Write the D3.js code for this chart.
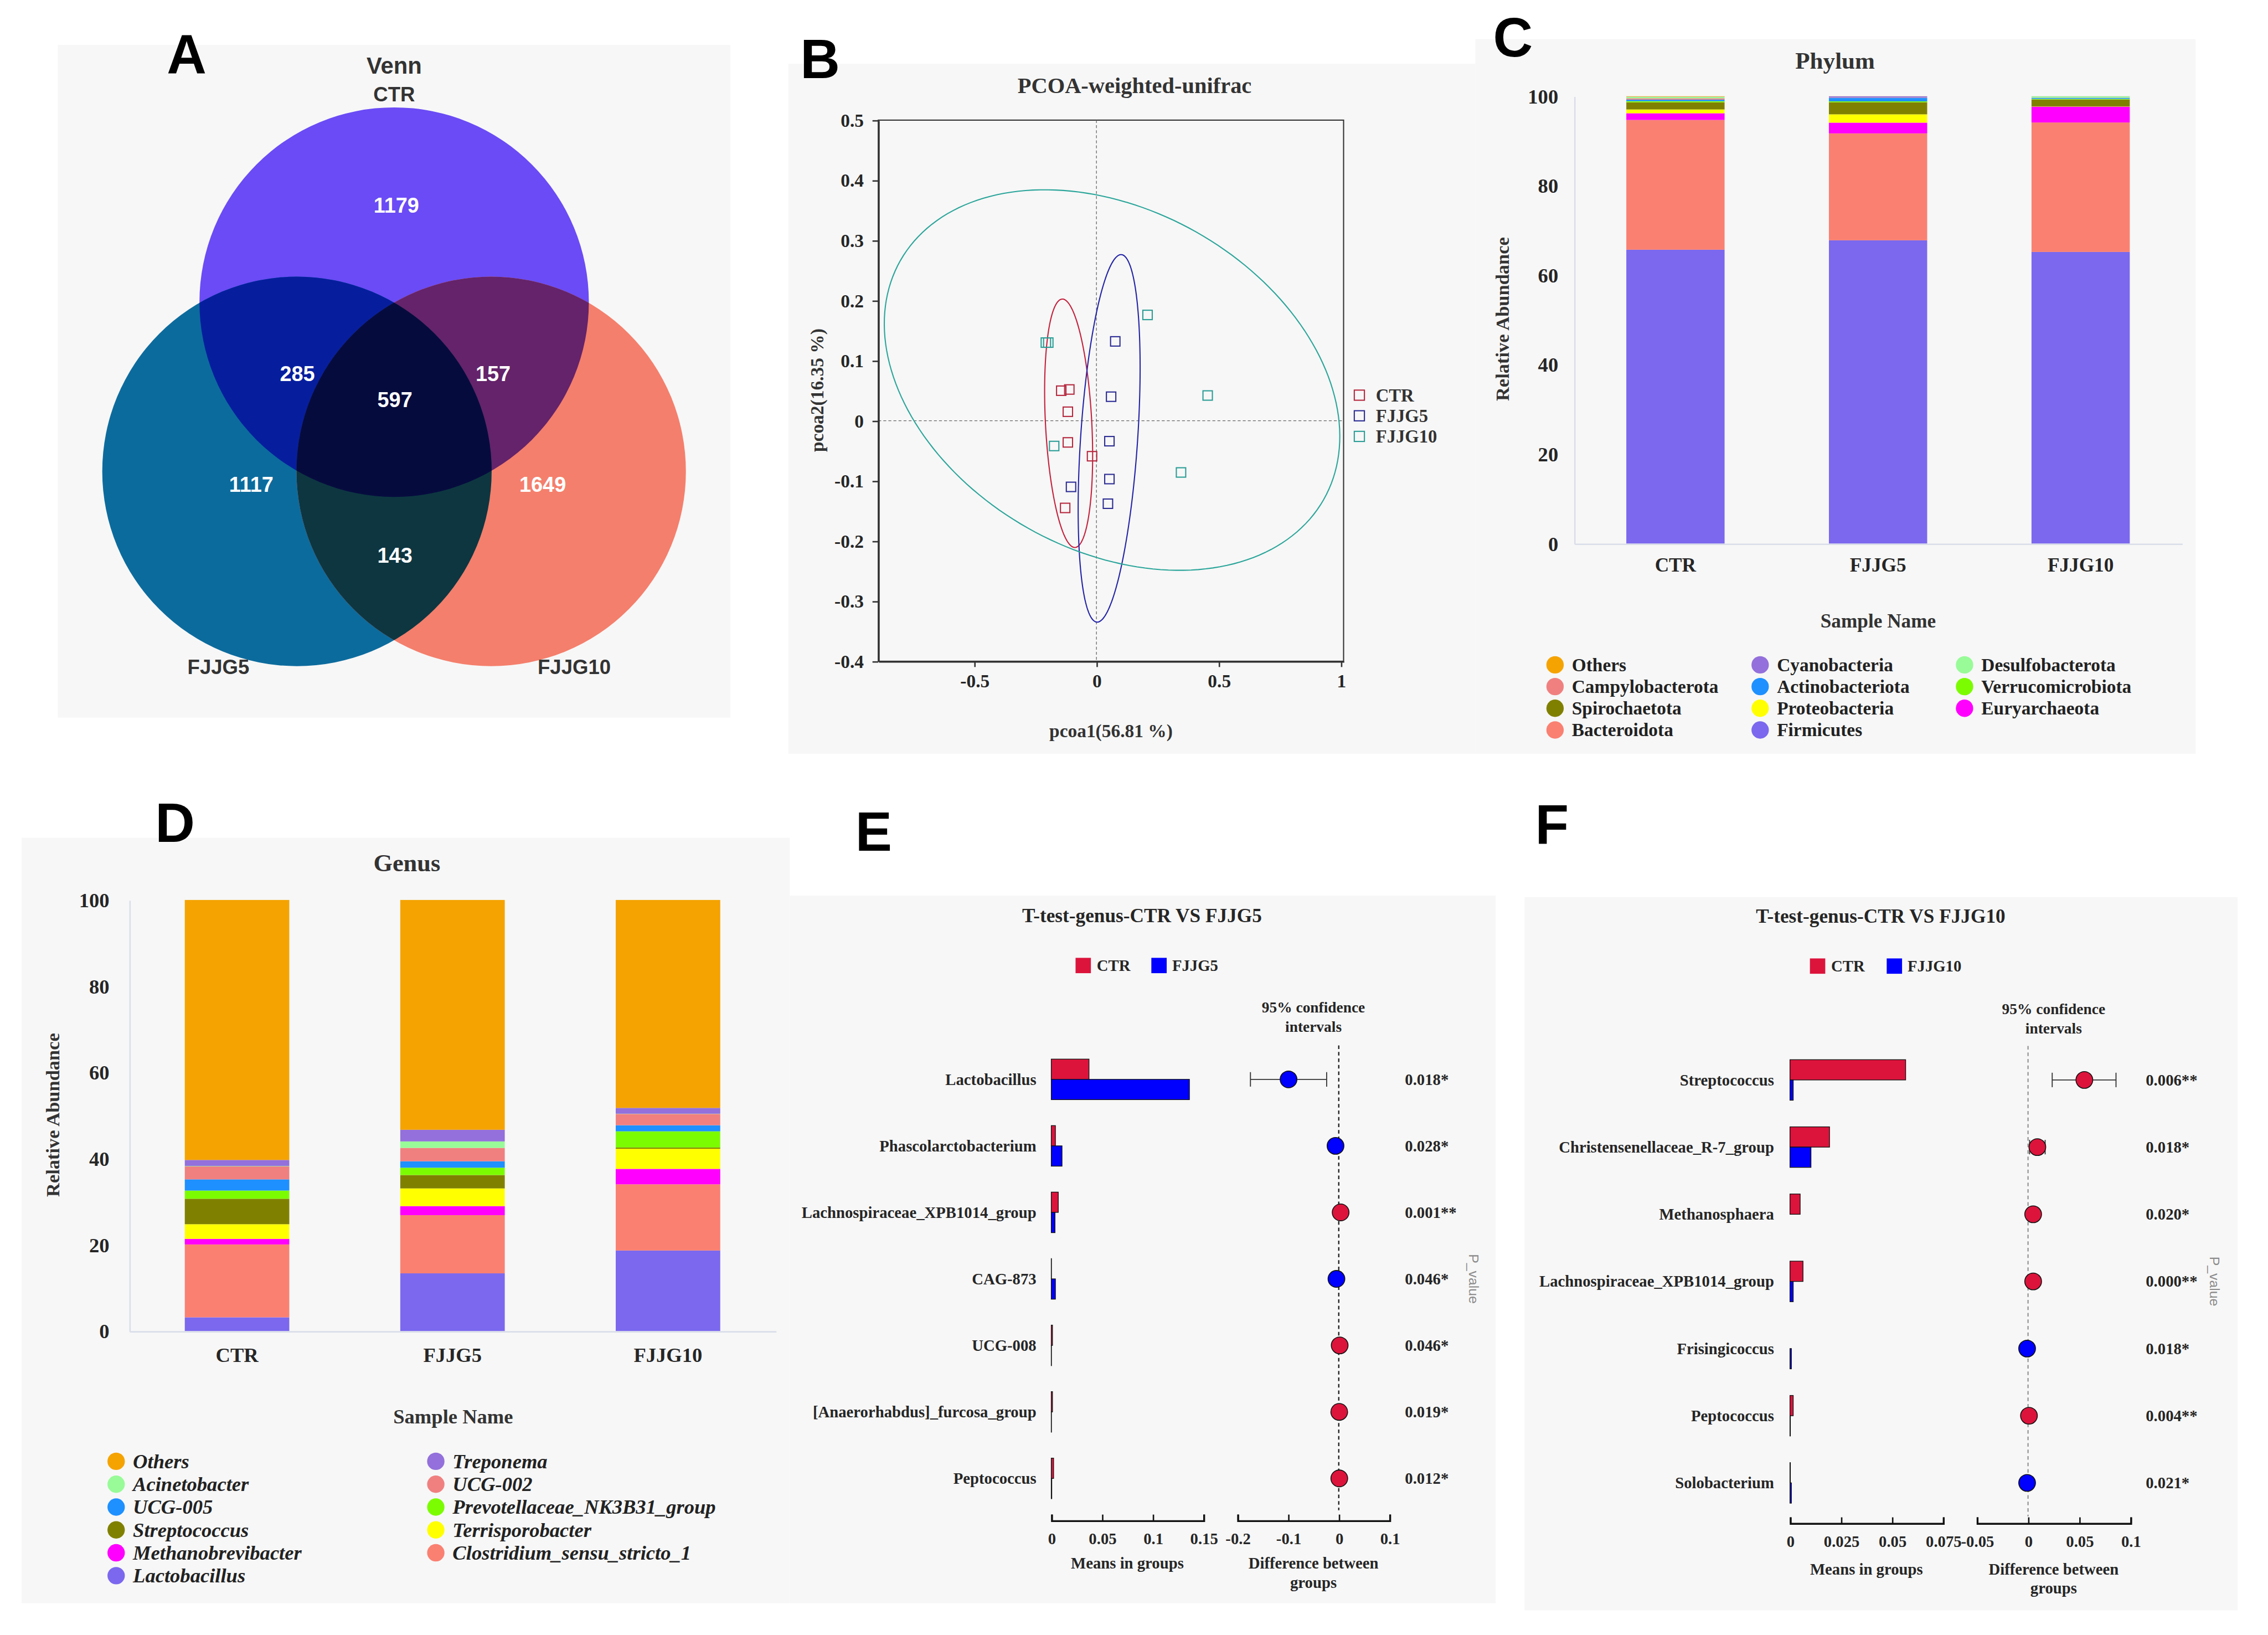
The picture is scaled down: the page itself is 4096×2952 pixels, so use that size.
<!DOCTYPE html>
<html>
<head>
<meta charset="utf-8">
<script src="https://cdn.jsdelivr.net/npm/d3@7"></script>
<style>
  html, body { margin: 0; padding: 0; background: #fff; }
  svg { display: block; }
</style>
</head>
<body>
<svg id="fig"></svg>
<script>
// ---------------- data ----------------
// A: Venn
const vennSets = ["CTR", "FJJG5", "FJJG10"];
const vennOnly = [1179, 1117, 1649];          // CTR, FJJG5, FJJG10 unique
const vennPairs = [285, 157, 143];            // CTR&FJJG5, CTR&FJJG10, FJJG5&FJJG10
const vennAll = 597;

// B: PCoA
const pcoaGroups = ["CTR", "FJJG5", "FJJG10"];
const pcoaCTR = [[-0.144, 0.050], [-0.111, 0.052], [-0.117, 0.015], [-0.117, -0.036], [-0.018, -0.059], [-0.128, -0.145]];
const pcoaFJJG5 = [[0.077, 0.132], [0.060, 0.040], [0.053, -0.034], [0.053, -0.097], [0.047, -0.138], [-0.104, -0.110]];
const pcoaFJJG10 = [[-0.207, 0.130], [-0.197, 0.130], [-0.173, -0.042], [0.209, 0.176], [0.455, 0.042], [0.346, -0.086]];
// ellipse: centre, semi-axis a, semi-axis b (data units)
const pcoaEllipseCTR = [[-0.1138, -0.0042], [-0.0264, 0.2066], [0.0946, 0.0021]];
const pcoaEllipseFJJG5 = [[0.0519, -0.0293], [0.0501, 0.3056], [0.1164, -0.0033]];
const pcoaEllipseFJJG10 = [[0.0638, 0.0677], [0.8772, -0.1901], [-0.3140, -0.2530]];
const pcoaXTicks = [-0.5, 0, 0.5, 1];
const pcoaYTicks = [0.5, 0.4, 0.3, 0.2, 0.1, 0, -0.1, -0.2, -0.3, -0.4];

// C: phylum (bottom -> top)
const sampleNames = ["CTR", "FJJG5", "FJJG10"];
const phylumNames = ["Firmicutes", "Bacteroidota", "Euryarchaeota", "Proteobacteria", "Spirochaetota",
  "Verrucomicrobiota", "Actinobacteriota", "Campylobacterota", "Desulfobacterota", "Cyanobacteria", "Others"];
const phylumCTR = [65.7, 29.0, 1.5, 0.85, 1.6, 0.25, 0.35, 0.3, 0.3, 0.05, 0.1];
const phylumFJJG5 = [67.8, 23.9, 2.4, 1.86, 2.7, 0.2, 0.75, 0.05, 0.02, 0.3, 0.02];
const phylumFJJG10 = [65.2, 28.94, 3.53, 0.05, 1.55, 0.15, 0.2, 0.05, 0.3, 0.02, 0.01];

// D: genus (bottom -> top)
const genusNames = ["Lactobacillus", "Clostridium_sensu_stricto_1", "Methanobrevibacter", "Terrisporobacter",
  "Streptococcus", "Prevotellaceae_NK3B31_group", "UCG-005", "UCG-002", "Acinetobacter", "Treponema", "Others"];
const genusCTR = [3.2, 16.9, 1.3, 3.4, 5.9, 1.9, 2.6, 3.0, 0.1, 1.4, 60.3];
const genusFJJG5 = [13.4, 13.5, 2.1, 4.1, 3.1, 1.7, 1.5, 3.1, 1.5, 2.7, 53.3];
const genusFJJG10 = [18.7, 15.35, 3.58, 4.68, 0.28, 3.75, 1.41, 2.62, 0.05, 1.35, 48.23];
const stackColors = ["#7B68EE", "#FA8072", "#FF00FF", "#FFFF00", "#808000", "#7CFC00",
  "#1E90FF", "#F08080", "#98FB98", "#9370DB", "#F5A300"];
const abundanceTicks = [0, 20, 40, 60, 80, 100];

// E: t-test CTR vs FJJG5
const ttestEGenera = ["Lactobacillus", "Phascolarctobacterium", "Lachnospiraceae_XPB1014_group", "CAG-873",
  "UCG-008", "[Anaerorhabdus]_furcosa_group", "Peptococcus"];
const ttestEMeanCTR = [0.0372, 0.0041, 0.0069, 0.0002, 0.0012, 0.0012, 0.0023];
const ttestEMeanTrt = [0.1362, 0.0106, 0.0037, 0.0041, 0.0002, 0.0002, 0.0005];
const ttestEDiff = [-0.0991, -0.0064, 0.0037, -0.0046, 0.0018, 0.0009, 0.0010];
const ttestELow = [-0.1743, -0.0108, 0.0015, -0.0083, 0.0003, 0.0002, 0.0002];
const ttestEHigh = [-0.0239, -0.0020, 0.0059, -0.0009, 0.0033, 0.0016, 0.0018];
const ttestEP = ["0.018*", "0.028*", "0.001**", "0.046*", "0.046*", "0.019*", "0.012*"];
const ttestEMeanTicks = [0, 0.05, 0.1, 0.15];
const ttestEDiffTicks = [-0.2, -0.1, 0, 0.1];

// F: t-test CTR vs FJJG10
const ttestFGenera = ["Streptococcus", "Christensenellaceae_R-7_group", "Methanosphaera", "Lachnospiraceae_XPB1014_group",
  "Frisingicoccus", "Peptococcus", "Solobacterium"];
const ttestFMeanCTR = [0.0567, 0.0194, 0.0050, 0.0064, 0.0000, 0.0016, 0.0002];
const ttestFMeanTrt = [0.0016, 0.0103, 0.0000, 0.0016, 0.0007, 0.0002, 0.0007];
const ttestFDiff = [0.0550, 0.0091, 0.0050, 0.0050, -0.0009, 0.0009, -0.0009];
const ttestFLow = [0.0236, 0.0015, 0.0012, 0.0028, -0.0015, 0.0003, -0.0016];
const ttestFHigh = [0.0859, 0.0167, 0.0088, 0.0072, -0.0003, 0.0015, -0.0002];
const ttestFP = ["0.006**", "0.018*", "0.020*", "0.000**", "0.018*", "0.004**", "0.021*"];
const ttestFMeanTicks = [0, 0.025, 0.05, 0.075];
const ttestFDiffTicks = [-0.05, 0, 0.05, 0.1];

// ---------------- setup ----------------
const SERIF = "'Liberation Serif','Times New Roman',Times,serif";
const SANS = "'Liberation Sans',Arial,Helvetica,sans-serif";
const svg = d3.select("#fig")
  .attr("width", 4096).attr("height", 2952)
  .attr("viewBox", "0 0 1568 1130");

svg.append("rect").attr("width", 1568).attr("height", 1130).attr("fill", "#fff");

// text helper: y is the visual centre of the caps
function label(g, x, y, s, o = {}) {
  const size = o.size || 12;
  const t = g.append("text")
    .attr("x", x).attr("y", y + size * 0.34)
    .attr("font-family", o.family || SERIF)
    .attr("font-size", size)
    .attr("font-weight", o.weight || "bold")
    .attr("fill", o.fill || "#262626")
    .attr("text-anchor", o.anchor || "middle")
    .text(s);
  if (o.italic) t.attr("font-style", "italic");
  if (o.rotate) t.attr("transform", `rotate(${o.rotate},${x},${y})`);
  return t;
}

function styleAxis(g, size, color) {
  g.attr("font-family", SERIF).attr("font-size", size).attr("font-weight", "bold")
    .attr("color", color);
  g.selectAll("text").attr("fill", "#262626");
}

// panel backgrounds
const panels = [[40, 31, 465, 465], [545, 44, 475, 477], [1020, 27, 498, 494],
  [15, 579, 531, 529], [546, 619, 488, 489], [1054, 620, 493, 493]];
svg.selectAll("rect.bg").data(panels).join("rect").attr("class", "bg")
  .attr("x", d => d[0]).attr("y", d => d[1]).attr("width", d => d[2]).attr("height", d => d[3])
  .attr("fill", "#f7f7f7");

// panel letters
[["A", 129, 38], ["B", 567, 41], ["C", 1046, 26], ["D", 121, 569], ["E", 604, 575], ["F", 1073, 570]]
  .forEach(([s, x, y]) => label(svg, x, y, s, { family: SANS, size: 38, fill: "#000" }));

// ---------------- A: Venn ----------------
(function () {
  const g = svg.append("g");
  const r = 134.6;
  const centres = [[272.5, 208.8], [205.3, 325.8], [339.6, 325.8]];
  const base = ["#6A4BF5", "#0C6B9D", "#F47F6C"];
  const pairCol = ["#061E9E", "#64236A", "#0D3641"];
  const defs = g.append("defs");
  centres.forEach((c, i) => {
    defs.append("clipPath").attr("id", "vc" + i)
      .append("circle").attr("cx", c[0]).attr("cy", c[1]).attr("r", r);
  });
  g.selectAll("circle.base").data(centres).join("circle").attr("class", "base")
    .attr("cx", d => d[0]).attr("cy", d => d[1]).attr("r", r)
    .attr("fill", (d, i) => base[i]);
  const pairs = [[0, 1], [0, 2], [1, 2]];
  pairs.forEach(([a, b], k) => {
    g.append("g").attr("clip-path", `url(#vc${a})`)
      .append("circle").attr("cx", centres[b][0]).attr("cy", centres[b][1]).attr("r", r)
      .attr("fill", pairCol[k]);
  });
  g.append("g").attr("clip-path", "url(#vc0)")
    .append("g").attr("clip-path", "url(#vc1)")
    .append("circle").attr("cx", centres[2][0]).attr("cy", centres[2][1]).attr("r", r)
    .attr("fill", "#060B3E");

  label(g, 272.5, 45.3, "Venn", { family: SANS, size: 16, fill: "#333" });
  label(g, 272.5, 65.3, vennSets[0], { family: SANS, size: 14, fill: "#333" });
  label(g, 151, 461, vennSets[1], { family: SANS, size: 14, fill: "#333" });
  label(g, 397, 461, vennSets[2], { family: SANS, size: 14, fill: "#333" });

  const onlyPos = [[274, 142], [173.7, 334.9], [375.2, 334.9]];
  const pairPos = [[205.6, 258.3], [340.9, 258.3], [273, 384]];
  vennOnly.forEach((v, i) => label(g, onlyPos[i][0], onlyPos[i][1], v, { family: SANS, size: 14.5, fill: "#fff" }));
  vennPairs.forEach((v, i) => label(g, pairPos[i][0], pairPos[i][1], v, { family: SANS, size: 14.5, fill: "#fff" }));
  label(g, 273, 276.3, vennAll, { family: SANS, size: 14.5, fill: "#fff" });
})();

// ---------------- B: PCoA ----------------
(function () {
  const g = svg.append("g");
  const x = d3.scaleLinear().domain([-0.8925, 1.011]).range([607.2, 928.9]);
  const y = d3.scaleLinear().domain([-0.4, 0.5]).range([457, 83]);
  const cols = ["#B5283E", "#2C2C94", "#2A9D96"];
  const ellCols = ["#C4203C", "#2323A8", "#2AA59A"];

  g.append("rect").attr("x", x.range()[0]).attr("y", y.range()[1])
    .attr("width", x.range()[1] - x.range()[0]).attr("height", y.range()[0] - y.range()[1])
    .attr("fill", "none").attr("stroke", "#333").attr("stroke-width", 0.8);

  g.append("line").attr("x1", x(0)).attr("x2", x(0)).attr("y1", y(0.5)).attr("y2", y(-0.4))
    .attr("stroke", "#666").attr("stroke-width", 0.5).attr("stroke-dasharray", "2,1.5");
  g.append("line").attr("x1", x.range()[0]).attr("x2", x.range()[1]).attr("y1", y(0)).attr("y2", y(0))
    .attr("stroke", "#666").attr("stroke-width", 0.5).attr("stroke-dasharray", "2,1.5");

  const ax = g.append("g").attr("transform", `translate(0,${y(-0.4)})`)
    .call(d3.axisBottom(x).tickValues(pcoaXTicks).tickSize(4).tickSizeOuter(0).tickPadding(5).tickFormat(d => String(d)));
  styleAxis(ax, 12.8, "#333");
  const ay = g.append("g").attr("transform", `translate(${x.range()[0]},0)`)
    .call(d3.axisLeft(y).tickValues(pcoaYTicks).tickSize(4).tickSizeOuter(0).tickPadding(6).tickFormat(d => String(d)));
  styleAxis(ay, 12.8, "#333");

  const ellipses = [pcoaEllipseCTR, pcoaEllipseFJJG5, pcoaEllipseFJJG10];
  const line = d3.line().x(d => x(d[0])).y(d => y(d[1])).curve(d3.curveLinearClosed);
  ellipses.forEach((e, i) => {
    const pts = d3.range(0, 360, 2).map(t => {
      const a = t * Math.PI / 180;
      return [e[0][0] + e[1][0] * Math.cos(a) + e[2][0] * Math.sin(a),
              e[0][1] + e[1][1] * Math.cos(a) + e[2][1] * Math.sin(a)];
    });
    g.append("path").attr("d", line(pts)).attr("fill", "none")
      .attr("stroke", ellCols[i]).attr("stroke-width", 0.8);
  });

  const sets = [pcoaCTR, pcoaFJJG5, pcoaFJJG10];
  const s = 6.5;
  sets.forEach((pts, i) => {
    g.selectAll(null).data(pts).join("rect")
      .attr("x", d => x(d[0]) - s / 2).attr("y", d => y(d[1]) - s / 2)
      .attr("width", s).attr("height", s).attr("fill", "none")
      .attr("stroke", cols[i]).attr("stroke-width", 0.8);
  });

  const ly = d3.scalePoint().domain(pcoaGroups).range([273.1, 301.6]);
  pcoaGroups.forEach((n, i) => {
    g.append("rect").attr("x", 939.8 - 3.5).attr("y", ly(n) - 3.5).attr("width", 7).attr("height", 7)
      .attr("fill", "none").attr("stroke", cols[i]).attr("stroke-width", 0.8);
    label(g, 951.2, ly(n), n, { size: 12.5, anchor: "start", fill: "#333" });
  });

  label(g, 784.4, 58.9, "PCOA-weighted-unifrac", { size: 15.5, fill: "#333" });
  label(g, 768.1, 505.3, "pcoa1(56.81 %)", { size: 12.8, fill: "#333" });
  label(g, 564.9, 269.7, "pcoa2(16.35 %)", { size: 12.8, fill: "#333", rotate: -90 });
})();

// ---------------- stacked bar helper (C, D) ----------------
function stackedPanel(o) {
  const g = svg.append("g");
  const x = d3.scaleBand().domain(sampleNames).range(o.xRange).paddingInner(0.515).paddingOuter(0.2575);
  const y = d3.scaleLinear().domain([0, 100]).range(o.yRange);
  const table = sampleNames.map((s, i) => {
    const row = { sample: s };
    o.names.forEach((n, j) => { row[n] = o.values[i][j]; });
    return row;
  });
  const series = d3.stack().keys(o.names)(table);
  g.selectAll("g.layer").data(series).join("g").attr("class", "layer")
    .attr("fill", (d, i) => stackColors[i])
    .selectAll("rect").data(d => d).join("rect")
    .attr("x", d => x(d.data.sample)).attr("width", x.bandwidth())
    .attr("y", d => y(d[1])).attr("height", d => Math.max(0, y(d[0]) - y(d[1])));

  const ay = g.append("g").attr("transform", `translate(${o.xRange[0]},0)`)
    .call(d3.axisLeft(y).tickValues(abundanceTicks).tickSize(0).tickPadding(o.yPad));
  styleAxis(ay, 14, "#d9dee9");
  const ax = g.append("g").attr("transform", `translate(0,${o.yRange[0]})`)
    .call(d3.axisBottom(x).tickSize(0).tickPadding(o.xPad));
  styleAxis(ax, o.catSize, "#d9dee9");
  g.selectAll(".domain").attr("stroke-width", 1);

  label(g, o.title[0], o.title[1], o.title[2], { size: o.titleSize, fill: "#333" });
  label(g, o.yLab[0], o.yLab[1], "Relative Abundance", { size: 13.2, fill: "#333", rotate: -90 });
  label(g, o.sName[0], o.sName[1], "Sample Name", { size: o.catSize, fill: "#333" });

  const legend = o.names.slice().reverse();
  legend.forEach((n, k) => {
    const c = k % o.legCols.length, r = Math.floor(k / o.legCols.length);
    const cy = o.legY0 + r * o.legDy;
    g.append("circle").attr("cx", o.legCols[c]).attr("cy", cy).attr("r", 6)
      .attr("fill", stackColors[o.names.length - 1 - k]);
    label(g, o.legCols[c] + 11.6, cy, n, { size: o.legSize, anchor: "start", fill: "#222", italic: o.italic });
  });
}

stackedPanel({
  names: phylumNames, values: [phylumCTR, phylumFJJG5, phylumFJJG10],
  xRange: [1088.3, 1508.5], yRange: [375.7, 66.5], yPad: 11, xPad: 9.7, catSize: 13.5,
  title: [1268.7, 41.9, "Phylum"], titleSize: 16.5, yLab: [1038.7, 220.5], sName: [1298.5, 429],
  legCols: [1075.1, 1216.9, 1358.2], legY0: 459.5, legDy: 15, legSize: 12.8, italic: false
});

stackedPanel({
  names: genusNames, values: [genusCTR, genusFJJG5, genusFJJG10],
  xRange: [89.4, 536.3], yRange: [920, 622], yPad: 13.8, xPad: 11.5, catSize: 14,
  title: [281.3, 596.3, "Genus"], titleSize: 17, yLab: [36.6, 770.6], sName: [313.3, 979],
  legCols: [80.3, 301.3], legY0: 1010, legDy: 15.8, legSize: 14, italic: true
});

// ---------------- t-test helper (E, F) ----------------
function ttestPanel(o) {
  const g = svg.append("g");
  const mx = d3.scaleLinear().domain(o.meanDomain).range(o.meanRange);
  const dx = d3.scaleLinear().domain(o.diffDomain).range(o.diffRange);
  const ry = d3.scalePoint().domain(o.genera).range(o.rowRange);
  const RED = "#DC143C", BLUE = "#0000FF";
  const bh = 14;

  label(g, o.titleX, o.titleY, o.title, { size: 13.5 });
  g.append("rect").attr("x", o.legX).attr("y", o.legY).attr("width", 10.6).attr("height", 10.6).attr("fill", RED);
  label(g, o.legX + 14.7, o.legY + 5.3, "CTR", { size: 11, anchor: "start" });
  g.append("rect").attr("x", o.leg2X).attr("y", o.legY).attr("width", 10.6).attr("height", 10.6).attr("fill", BLUE);
  label(g, o.leg2X + 14.4, o.legY + 5.3, o.trt, { size: 11, anchor: "start" });

  const midD = (o.diffRange[0] + o.diffRange[1]) / 2;
  label(g, midD, o.confY, "95% confidence", { size: 10.5 });
  label(g, midD, o.confY + 13.3, "intervals", { size: 10.5 });

  // zero line
  g.append("line").attr("x1", dx(0)).attr("x2", dx(0)).attr("y1", o.zeroTop).attr("y2", o.zeroBot)
    .attr("stroke", o.zeroColor).attr("stroke-width", 0.9).attr("stroke-dasharray", "2.5,2");

  // genus labels
  o.genera.forEach(n => label(g, o.labelX, ry(n), n, { size: 11, anchor: "end" }));

  // mean bars
  g.selectAll("rect.ctr").data(o.meanCTR).join("rect").attr("class", "ctr")
    .attr("x", mx(0)).attr("y", (d, i) => ry(o.genera[i]) - bh)
    .attr("width", d => mx(d) - mx(0)).attr("height", bh)
    .attr("fill", RED).attr("stroke", "#111").attr("stroke-width", 0.5);
  g.selectAll("rect.trt").data(o.meanTrt).join("rect").attr("class", "trt")
    .attr("x", mx(0)).attr("y", (d, i) => ry(o.genera[i]))
    .attr("width", d => mx(d) - mx(0)).attr("height", bh)
    .attr("fill", BLUE).attr("stroke", "#111").attr("stroke-width", 0.5);

  // confidence intervals + points
  o.diff.forEach((d, i) => {
    const yy = ry(o.genera[i]);
    const lo = dx(o.low[i]), hi = dx(o.high[i]);
    g.append("line").attr("x1", lo).attr("x2", hi).attr("y1", yy).attr("y2", yy)
      .attr("stroke", "#333").attr("stroke-width", 0.7);
    [lo, hi].forEach(xx => g.append("line").attr("x1", xx).attr("x2", xx)
      .attr("y1", yy - 5).attr("y2", yy + 5).attr("stroke", "#333").attr("stroke-width", 0.7));
    g.append("circle").attr("cx", dx(d)).attr("cy", yy).attr("r", 5.8)
      .attr("fill", d > 0 ? RED : BLUE).attr("stroke", "#111").attr("stroke-width", 0.6);
  });

  // p-values
  o.p.forEach((p, i) => label(g, o.pX, ry(o.genera[i]), p, { size: 11, anchor: "start" }));
  label(g, o.pLabX, (o.rowRange[0] + o.rowRange[1]) / 2, "P_value",
    { family: SANS, size: 9.5, weight: "normal", fill: "#8a8a8a", rotate: 90 });

  // axes
  const am = g.append("g").attr("transform", `translate(0,${o.axisY})`)
    .call(d3.axisBottom(mx).tickValues(o.meanTicks).tickSize(-4).tickPadding(8.7).tickFormat(d => String(d)));
  styleAxis(am, 11, "#111");
  const ad = g.append("g").attr("transform", `translate(0,${o.axisY})`)
    .call(d3.axisBottom(dx).tickValues(o.diffTicks).tickSize(-4).tickPadding(8.7).tickFormat(d => String(d)));
  styleAxis(ad, 11, "#111");
  g.selectAll(".domain").attr("stroke-width", 1.3);

  const midM = (o.meanRange[0] + o.meanRange[1]) / 2;
  label(g, midM, o.axisLabY, "Means in groups", { size: 11 });
  label(g, midD, o.axisLabY, "Difference between", { size: 11 });
  label(g, midD, o.axisLabY + 13.2, "groups", { size: 11 });
}

ttestPanel({
  title: "T-test-genus-CTR VS FJJG5", trt: "FJJG5", genera: ttestEGenera,
  meanCTR: ttestEMeanCTR, meanTrt: ttestEMeanTrt, diff: ttestEDiff, low: ttestELow, high: ttestEHigh, p: ttestEP,
  meanDomain: [0, 0.15], meanRange: [726.8, 832.0], meanTicks: ttestEMeanTicks,
  diffDomain: [-0.2, 0.1], diffRange: [855.5, 960.6], diffTicks: ttestEDiffTicks,
  rowRange: [746, 1021.8], labelX: 716.5, pX: 971.3, pLabX: 1018.8, axisY: 1050.8, axisLabY: 1080.5,
  titleX: 789.5, titleY: 632.8, legX: 743.6, leg2X: 796, legY: 662, confY: 696.3,
  zeroTop: 722.5, zeroBot: 1043.8, zeroColor: "#222"
});

ttestPanel({
  title: "T-test-genus-CTR VS FJJG10", trt: "FJJG10", genera: ttestFGenera,
  meanCTR: ttestFMeanCTR, meanTrt: ttestFMeanTrt, diff: ttestFDiff, low: ttestFLow, high: ttestFHigh, p: ttestFP,
  meanDomain: [0, 0.075], meanRange: [1237.5, 1343.3], meanTicks: ttestFMeanTicks,
  diffDomain: [-0.05, 0.1], diffRange: [1366.7, 1472.9], diffTicks: ttestFDiffTicks,
  rowRange: [746.4, 1024.9], labelX: 1226.5, pX: 1483.5, pLabX: 1531.1, axisY: 1052.7, axisLabY: 1084.4,
  titleX: 1300.2, titleY: 633.2, legX: 1251.3, leg2X: 1304.4, legY: 662.4, confY: 697.3,
  zeroTop: 722.9, zeroBot: 1048, zeroColor: "#999"
});
</script>
</body>
</html>
